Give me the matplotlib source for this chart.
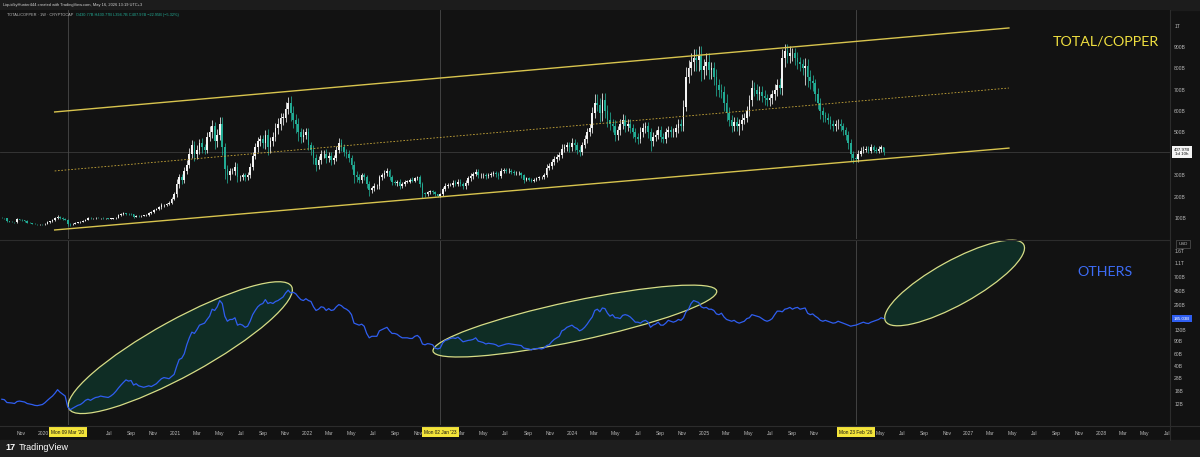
import numpy as np
import pandas as pd
import matplotlib
matplotlib.use("Agg")
import matplotlib.pyplot as plt
import matplotlib.dates as mdates
from matplotlib.patches import Ellipse, Rectangle
from matplotlib.transforms import IdentityTransform

plt.rcParams['font.family'] = ['Liberation Sans', 'DejaVu Sans']

# ---------------- DATA ----------------
start_week = "2019-09-09"
first_open = 102

closes_2019 = [100, 98, 84, 83, 81, 80, 93, 92, 90, 86, 78, 76, 74, 72, 70, 71, 70]
closes_2020 = [74, 80, 84, 90,
               98, 106, 100, 96,
               92, 72, 70, 74, 78,
               80, 82, 86, 92,
               100, 98, 98, 102,
               100, 100, 98, 99, 97,
               97, 98, 102, 114,
               118, 122, 120, 118, 117,
               106, 110, 108, 110,
               112, 113, 122, 128,
               138, 142, 150, 160, 162,
               165, 172, 190, 210]
closes_2021 = [260, 290, 280, 320,
               350, 400, 440, 400,
               420, 450, 430, 420, 480,
               500, 530, 460, 490,
               540, 430, 330, 300, 320,
               320, 340, 290, 290,
               300, 290, 300, 340,
               390, 430, 460, 470, 450,
               490, 430, 460, 480,
               520, 540, 570, 570,
               610, 640, 590, 560, 540,
               500, 480, 490, 500]
closes_2022 = [440, 420, 380, 350, 370,
               400, 400, 380, 390,
               370, 380, 420, 450,
               430, 410, 400, 380,
               350, 300, 290, 280, 300,
               290, 260, 230, 240,
               250, 250, 290, 300,
               310, 320, 290, 270, 265,
               270, 250, 260, 270,
               270, 280, 275, 285, 290,
               260, 215, 210, 220,
               225, 220, 210, 205]
closes_2023 = [210, 235, 250, 255, 255,
               265, 260, 270, 260,
               250, 265, 285, 295,
               305, 315, 300, 300,
               300, 295, 300, 305, 310,
               305, 295, 320, 325,
               320, 320, 315, 310, 310,
               310, 300, 280, 285,
               280, 275, 280, 285,
               290, 290, 300, 335, 345,
               360, 375, 385, 395,
               425, 430, 440, 430]
closes_2024 = [450, 440, 420, 410, 440,
               470, 500, 520, 590,
               640, 630, 590, 650,
               600, 560, 540, 530, 490,
               510, 540, 560, 530,
               540, 520, 500, 480,
               470, 500, 520, 530, 500,
               460, 480, 490, 510,
               480, 470, 500, 510, 500,
               500, 520, 540, 530,
               620, 760, 800, 830,
               850, 840, 860, 790, 810]
closes_2025 = [830, 790, 800, 760,
               720, 700, 690, 640,
               590, 560, 530, 550, 530,
               540, 560, 570, 600,
               650, 710, 700, 680,
               690, 670, 660, 650, 660,
               680, 700, 720, 710,
               850, 880, 860, 870,
               870, 850, 830, 820, 800,
               810, 760, 740, 730,
               680, 640, 600, 580,
               570, 560, 540, 530, 540]
closes_2026 = [540, 530, 510, 490,
               450, 400, 380, 375,
               400, 415, 420, 425, 415,
               430, 420, 415, 425,
               430.77, 407.97]

# upper / lower wick sizes, percent of body extreme
wick_up_2019 = [3, 2, 4, 2, 3, 2, 5, 3, 2, 2, 3, 2, 2, 3, 2, 2, 2]
wick_dn_2019 = [2, 3, 5, 2, 2, 3, 2, 2, 3, 3, 4, 2, 3, 2, 3, 2, 2]
wick_up_2020 = [4, 5, 3, 4, 5, 6, 4, 3, 4, 5, 6, 4, 3, 3, 3, 4, 5, 6, 3, 3, 4, 3, 2, 3, 2, 2,
                3, 3, 4, 5, 5, 4, 3, 3, 3, 3, 3, 2, 2, 2, 3, 4, 4, 4, 5, 4, 5, 3, 4, 5, 5, 6]
wick_dn_2020 = [2, 2, 3, 2, 2, 3, 4, 4, 4, 12, 10, 4, 3, 3, 2, 3, 2, 3, 4, 3, 2, 2, 3, 3, 2, 3,
                2, 2, 2, 2, 3, 3, 4, 4, 3, 5, 3, 3, 3, 2, 2, 2, 3, 2, 2, 3, 4, 6, 4, 3, 3, 3]
wick_up_2021 = [8, 6, 5, 6, 6, 7, 6, 5, 5, 4, 5, 4, 5, 6, 5, 4, 5, 6, 6, 5, 6, 5, 5, 6, 5, 4,
                4, 4, 5, 5, 5, 5, 4, 4, 4, 4, 5, 4, 5, 5, 5, 4, 4, 5, 4, 5, 6, 5, 5, 4, 5, 4]
wick_dn_2021 = [6, 8, 7, 5, 5, 4, 5, 8, 6, 5, 6, 5, 4, 4, 5, 8, 6, 5, 8, 15, 12, 8, 5, 6, 8, 6,
                5, 6, 5, 4, 4, 4, 5, 5, 5, 6, 8, 6, 5, 4, 5, 5, 6, 4, 4, 6, 7, 8, 8, 6, 5, 4]
wick_up_2022 = [4, 4, 5, 5, 6, 5, 5, 6, 5, 5, 4, 4, 5, 4, 4, 3, 4, 4, 5, 6, 5, 4, 4, 4, 5, 5,
                5, 4, 4, 4, 4, 4, 3, 4, 3, 3, 4, 3, 3, 3, 3, 4, 3, 3, 4, 3, 3, 3, 3, 3, 3, 2]
wick_dn_2022 = [5, 6, 7, 8, 6, 5, 5, 6, 5, 6, 5, 4, 4, 4, 5, 5, 5, 6, 12, 8, 6, 5, 5, 8, 12, 6,
                6, 5, 5, 4, 4, 4, 5, 5, 4, 5, 5, 4, 4, 3, 3, 3, 3, 3, 5, 10, 5, 4, 4, 3, 3, 3]
wick_up_2023 = [3, 4, 5, 4, 4, 4, 4, 5, 4, 3, 4, 4, 5, 4, 5, 4, 3, 3, 3, 3, 3, 3, 3, 3, 4, 3,
                3, 4, 3, 3, 3, 3, 2, 2, 2, 2, 2, 3, 3, 3, 3, 3, 5, 4, 4, 4, 4, 4, 5, 4, 4, 4]
wick_dn_2023 = [3, 3, 4, 3, 3, 4, 4, 4, 4, 6, 5, 4, 4, 4, 3, 5, 4, 4, 4, 3, 3, 3, 4, 5, 3, 3,
                3, 3, 3, 3, 3, 3, 4, 6, 3, 3, 3, 3, 3, 3, 3, 3, 3, 3, 4, 3, 3, 3, 4, 4, 4, 5]
wick_up_2024 = [5, 4, 4, 4, 3, 4, 4, 4, 5, 6, 6, 5, 5, 5, 5, 6, 4, 5, 4, 4, 5, 4, 4, 4, 4, 4,
                4, 5, 5, 4, 4, 4, 5, 4, 4, 4, 4, 4, 4, 4, 4, 4, 4, 4, 5, 6, 5, 5, 5, 5, 5, 5, 4]
wick_dn_2024 = [4, 6, 5, 5, 4, 3, 4, 3, 4, 4, 5, 7, 6, 5, 6, 5, 5, 6, 5, 4, 4, 5, 4, 4, 5, 5,
                5, 4, 4, 4, 5, 10, 5, 4, 4, 5, 4, 4, 4, 4, 4, 4, 4, 4, 4, 3, 4, 4, 5, 6, 6, 6, 5]
wick_up_2025 = [5, 5, 4, 4, 5, 4, 4, 4, 6, 5, 4, 4, 4, 4, 5, 4, 4, 4, 5, 4, 4, 4, 4, 4, 3, 3,
                3, 4, 4, 5, 5, 4, 4, 4, 3, 3, 3, 3, 3, 5, 4, 4, 4, 3, 4, 3, 3, 3, 4, 3, 3, 3]
wick_dn_2025 = [5, 5, 5, 5, 7, 5, 4, 6, 6, 5, 5, 4, 4, 8, 5, 4, 4, 4, 4, 4, 4, 4, 4, 5, 4, 4,
                4, 4, 4, 4, 5, 5, 4, 4, 4, 4, 4, 4, 4, 10, 6, 5, 5, 5, 5, 6, 5, 4, 4, 4, 4, 4]
wick_up_2026 = [4, 4, 3, 3, 3, 4, 3, 3, 5, 4, 4, 3, 3, 4, 3, 3, 3, 2, 0]
wick_dn_2026 = [4, 4, 4, 5, 6, 8, 6, 4, 4, 3, 3, 3, 3, 3, 3, 3, 3, 4, 3.25]

# OTHERS market cap (billions USD), weekly
others_2019 = [14.0, 13.8, 12.6, 12.5, 12.4, 12.2, 13.0, 13.2, 13.0, 12.8, 12.2, 12.0, 11.8, 11.5, 11.4, 11.6, 11.8]
others_2020 = [12.5, 13.5, 14.5, 15.5, 17.0, 19.0, 17.5, 16.5, 15.5, 11.0, 10.0, 10.5, 11.0,
               11.5, 11.8, 12.5, 13.5, 14.0, 13.5, 14.2, 14.8, 15.0, 15.5, 15.2, 15.0, 14.8,
               15.5, 16.5, 18.0, 20.0, 22.0, 24.0, 26.0, 25.0, 25.5, 22.0, 23.0, 21.5, 21.0,
               20.5, 21.0, 21.5, 21.0, 22.0, 23.0, 25.0, 27.0, 28.0, 27.5, 27.0, 29.0, 31.0]
others_2021 = [40, 50, 52, 60, 80, 100, 120, 115, 130, 150, 155, 160, 180,
               200, 250, 240, 270, 330, 300, 200, 170, 180, 180, 190, 150, 155,
               150, 140, 145, 170, 210, 240, 270, 290, 300, 340, 300, 310, 300,
               320, 330, 350, 370, 420, 460, 420, 430, 410, 370, 340, 330, 350]
others_2022 = [330, 320, 270, 240, 250, 270, 265, 240, 255, 240, 245, 270, 290,
               280, 260, 250, 235, 210, 160, 155, 150, 155, 145, 115, 100, 105,
               105, 105, 125, 130, 135, 140, 125, 115, 115, 112, 105, 100, 100,
               100, 98, 98, 105, 108, 100, 82, 80, 83, 82, 80, 72, 70]
others_2023 = [72, 85, 92, 94, 98, 100, 98, 102, 95, 88, 90, 92, 93,
               95, 100, 90, 88, 86, 82, 84, 83, 82, 80, 76, 78, 80,
               82, 83, 82, 81, 80, 79, 78, 72, 71, 70, 68, 70, 71,
               71, 70, 72, 78, 80, 88, 95, 100, 105, 125, 130, 140, 145]
others_2024 = [150, 140, 135, 125, 130, 140, 155, 175, 195, 240, 250, 230, 260,
               255, 220, 200, 210, 190, 190, 185, 205, 210, 205, 195, 180, 165,
               165, 160, 170, 175, 165, 140, 150, 155, 165, 150, 150, 160, 175, 170,
               165, 170, 180, 175, 190, 230, 250, 300, 330, 320, 310, 270, 260]
others_2025 = [265, 250, 250, 240, 215, 210, 220, 195, 180, 175, 170, 175, 165,
               160, 165, 170, 185, 190, 210, 205, 200, 195, 185, 175, 170, 175,
               185, 210, 235, 235, 230, 250, 255, 265, 250, 260, 265, 250, 255,
               260, 220, 210, 215, 200, 190, 175, 170, 175, 170, 165, 160, 162]
others_2026 = [170, 165, 160, 155, 150, 145, 148, 150, 155, 160, 165, 160, 158,
               165, 170, 175, 180, 190, 185.03]

# axis labels
top_ticks = [100, 200, 300, 500, 600, 700, 800, 900, 1000]
top_tick_labels = ["100B", "200B", "300B", "500B", "600B", "700B", "800B", "900B", "1T"]
low_ticks = [12, 18, 28, 40, 60, 90, 130, 290, 450, 700, 1100, 1600]
low_tick_labels = ["12B", "18B", "28B", "40B", "60B", "90B", "130B", "290B", "450B", "700B", "1.1T", "1.6T"]
marked_dates = ["2020-03-09", "2023-01-02", "2026-02-23"]
marked_labels = ["Mon 09 Mar '20", "Mon 02 Jan '23", "Mon 23 Feb '26"]

# channel drawing anchors (date, value)
chan_dates = ["2020-02-02", "2027-04-22"]
chan_upper = [596, 989]
chan_lower = [44, 427]

# ellipse drawings: centre (date, value), size in px, angle
ell_dates = ["2021-01-14", "2024-01-09", "2026-11-23"]
ell_values = [73, 171, 580]
ell_w = [254, 290, 158]
ell_h = [56, 40, 44]
ell_ang = [28.8, 12.0, 29.0]

# ---------------- STYLE ----------------
W, H = 1200, 457
BG = "#121212"
BAR = "#1c1c1c"
UPC = "#f4f4f4"
DNC = "#22ab94"
YEL = "#d8c44e"
TXT = "#b8b8b8"
BLUE = "#2f5ef0"

fig = plt.figure(figsize=(W / 100, H / 100), dpi=100)
fig.patch.set_facecolor(BG)


def rect(x0, y0, x1, y1):
    return [x0 / W, 1 - y1 / H, (x1 - x0) / W, (y1 - y0) / H]


# header / footer strips
fig.add_artist(Rectangle((0, 1 - 10 / H), 1, 10 / H, transform=fig.transFigure, color=BAR, zorder=0))
fig.add_artist(Rectangle((0, 0), 1, 17 / H, transform=fig.transFigure, color="#1e1e1e", zorder=0))

ax1 = fig.add_axes(rect(0, 10, 1170, 239))
ax2 = fig.add_axes(rect(0, 240, 1170, 425), sharex=ax1)

for ax in (ax1, ax2):
    ax.set_facecolor(BG)
    for s in ax.spines.values():
        s.set_visible(False)

closes = np.array(closes_2019 + closes_2020 + closes_2021 + closes_2022 + closes_2023 +
                  closes_2024 + closes_2025 + closes_2026, dtype=float)
wup = np.array(wick_up_2019 + wick_up_2020 + wick_up_2021 + wick_up_2022 + wick_up_2023 +
               wick_up_2024 + wick_up_2025 + wick_up_2026, dtype=float)
wdn = np.array(wick_dn_2019 + wick_dn_2020 + wick_dn_2021 + wick_dn_2022 + wick_dn_2023 +
               wick_dn_2024 + wick_dn_2025 + wick_dn_2026, dtype=float)
others = np.array(others_2019 + others_2020 + others_2021 + others_2022 + others_2023 +
                  others_2024 + others_2025 + others_2026, dtype=float)

dates = pd.date_range(start_week, periods=len(closes), freq="7D")
xd = mdates.date2num(dates)
opens = np.concatenate([[first_open], closes[:-1]])
hi = np.maximum(opens, closes) * (1 + wup / 100)
lo = np.minimum(opens, closes) * (1 - wdn / 100)
is_up = closes >= opens
cols = np.where(is_up, UPC, DNC)

x_left = mdates.date2num(pd.Timestamp("2019-09-04"))
x_right = mdates.date2num(pd.Timestamp("2028-07-10"))
ax1.set_xlim(x_left, x_right)

# top panel
ax1.set_ylim(1.75, 1073)
ax1.axhline(closes[-1], color="#3a3a3a", lw=0.6, zorder=1)
ax1.vlines(xd, lo, hi, colors=cols, lw=0.55, zorder=3)
body_lo = np.minimum(opens, closes)
body_h = np.maximum(np.abs(closes - opens), 1.5)
ax1.bar(xd, body_h, bottom=body_lo, width=4.6, color=cols, lw=0, zorder=4)

cd = mdates.date2num(pd.to_datetime(chan_dates))
ax1.plot(cd, chan_upper, color=YEL, lw=1.0, zorder=5)
ax1.plot(cd, chan_lower, color=YEL, lw=1.0, zorder=5)
ax1.plot(cd, [(a + b) / 2 for a, b in zip(chan_upper, chan_lower)], color="#c9a93a",
         lw=0.6, ls=(0, (2, 2)), zorder=5)

ax1.yaxis.tick_right()
ax1.set_yticks(top_ticks)
ax1.set_yticklabels(top_tick_labels)
ax1.tick_params(axis="y", length=0, pad=3, labelsize=3.6, labelcolor=TXT)
ax1.tick_params(axis="x", length=0, labelbottom=False)

# lower panel
ax2.set_yscale("log")
ax2.set_ylim(6.13, 2293)
ax2.plot(xd, others, color=BLUE, lw=0.9, zorder=5)
ax2.yaxis.tick_right()
ax2.set_yticks(low_ticks)
ax2.set_yticklabels(low_tick_labels)
ax2.yaxis.set_minor_locator(matplotlib.ticker.NullLocator())
ax2.tick_params(axis="y", length=0, pad=3, labelsize=3.6, labelcolor=TXT)

ax2.xaxis.set_major_locator(mdates.MonthLocator(bymonth=[1, 3, 5, 7, 9, 11]))
marked_nums = [mdates.date2num(pd.Timestamp(d)) for d in marked_dates]


def fmt(x, pos=None):
    # labels hidden under the yellow date boxes are not shown
    if any(abs(x - m) < 56 for m in marked_nums):
        return ""
    d = mdates.num2date(x)
    return str(d.year) if d.month == 1 else d.strftime("%b")


ax2.xaxis.set_major_formatter(matplotlib.ticker.FuncFormatter(fmt))
ax2.tick_params(axis="x", length=0, pad=4, labelsize=3.6, labelcolor=TXT)

# vertical markers & date boxes
for xm, lab in zip(marked_nums, marked_labels):
    ax1.axvline(xm, color="#4a4a4a", lw=0.6, zorder=1)
    ax2.axvline(xm, color="#4a4a4a", lw=0.6, zorder=1)
    ax2.text(xm, -7 / 185, lab, transform=ax2.get_xaxis_transform(), ha="center", va="center",
             fontsize=3.4, color="#111111", clip_on=False, zorder=10,
             bbox=dict(boxstyle="square,pad=0.5", fc="#f3e43a", ec="none"))

# ellipses (drawn in pixel space from anchors), semi-transparent, under the line
for d, v, w, h, a in zip(ell_dates, ell_values, ell_w, ell_h, ell_ang):
    cx, cy = ax2.transData.transform((mdates.date2num(pd.Timestamp(d)), v))
    e = Ellipse((cx, cy), w, h, angle=a, transform=IdentityTransform(),
                facecolor=(0.05, 0.27, 0.21, 0.55), edgecolor="#d6dc86", lw=0.9, zorder=3,
                clip_on=False)
    ax2.add_artist(e)

# separators
fig.add_artist(plt.Line2D([0, 1170 / W], [1 - 239.5 / H] * 2, transform=fig.transFigure, color="#2c2c2c", lw=0.8))
fig.add_artist(plt.Line2D([1170 / W] * 2, [17 / H, 1 - 10 / H], transform=fig.transFigure, color="#2c2c2c", lw=0.8))
fig.add_artist(plt.Line2D([0, 1], [1 - 425.5 / H] * 2, transform=fig.transFigure, color="#2c2c2c", lw=0.8))

# price labels on axes
ax1.text(1.0 + 12 / 1170, closes[-1], "407.97B\n1d 10h", transform=ax1.get_yaxis_transform(),
         ha="center", va="center", fontsize=3.2, color="#111111", linespacing=1.1, clip_on=False, zorder=10,
         bbox=dict(boxstyle="square,pad=0.4", fc="#f4f4f4", ec="none"))
ax2.text(1.0 + 12 / 1170, others[-1], "185.03B", transform=ax2.get_yaxis_transform(),
         ha="center", va="center", fontsize=3.2, color="white", clip_on=False, zorder=10,
         bbox=dict(boxstyle="square,pad=0.4", fc=BLUE, ec="none"))
ax2.text(1.0 + 13 / 1170, 1 - 4 / 185, "USD", transform=ax2.transAxes, ha="center", va="center",
         fontsize=3.2, color=TXT, clip_on=False, zorder=10,
         bbox=dict(boxstyle="square,pad=0.5", fc=BG, ec="#555555", lw=0.5))

# titles
ax1.text(1106 / 1170, 1 - 32 / 229, "TOTAL/COPPER", transform=ax1.transAxes, ha="center", va="center",
         fontsize=10.3, color="#f0e040", family=["Lato", "DejaVu Sans"])
ax2.text(1105 / 1170, 1 - 32 / 185, "OTHERS", transform=ax2.transAxes, ha="center", va="center",
         fontsize=10.3, color="#3d6cf5", family=["Lato", "DejaVu Sans"])

# header texts
fig.text(3 / W, 1 - 5 / H, "LiquidityHunter444 created with TradingView.com, May 16, 2026 13:19 UTC+3",
         fontsize=2.9, color="#d0d0d0", va="center", ha="left")
fig.text(7 / W, 1 - 15 / H, "TOTAL/COPPER · 1W · CRYPTOCAP", fontsize=2.8, color=TXT, va="center", ha="left")
fig.text(76 / W, 1 - 15 / H, "O430.77B H430.77B L394.7B C407.97B \u221222.95B (\u22125.32%)",
         fontsize=2.8, color="#22ab94", va="center", ha="left")

# footer
fig.text(5 / W, 9 / H, "17", fontsize=6.5, fontweight="bold", color="white", va="center", ha="left")
fig.text(19 / W, 9 / H, "TradingView", fontsize=6.5, color="white", va="center", ha="left")

fig.savefig("out.png", dpi=100, facecolor=fig.get_facecolor())
